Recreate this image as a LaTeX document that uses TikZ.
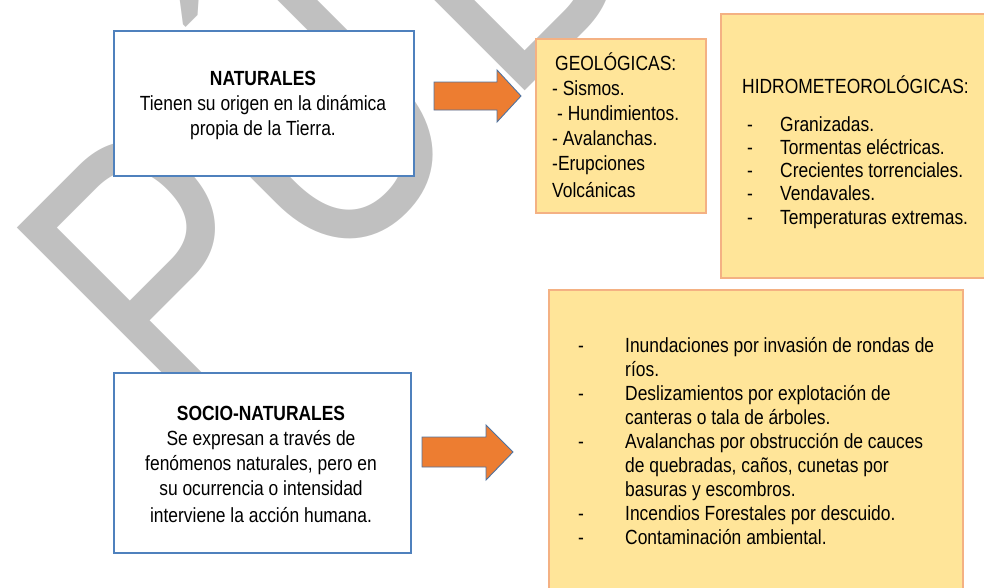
\documentclass[tikz,border=0pt]{standalone}
\usepackage{fontspec}
\setmainfont[FakeStretch=0.85]{Liberation Sans}
\newfontfamily\wmfont[FakeStretch=0.8]{Liberation Sans}
\definecolor{wm}{RGB}{192,192,192}
\definecolor{bluebd}{RGB}{79,129,189}
\definecolor{yelfill}{RGB}{255,229,153}
\definecolor{yelbd}{RGB}{244,177,131}
\definecolor{arrfill}{RGB}{237,125,49}
\definecolor{arrbd}{RGB}{80,115,160}
\begin{document}
\begin{tikzpicture}[x=1pt,y=-1pt,
  whitebox/.style={draw=bluebd, line width=1.8pt, fill=white, inner sep=0pt, anchor=north west},
  yelbox/.style={draw=yelbd, line width=1.8pt, fill=yelfill, inner sep=0pt, anchor=north west},
  blockarrow/.style={draw=arrbd, line width=0.9pt, fill=arrfill, line join=miter},
  wmletter/.style={rotate=45, anchor=base west, inner sep=0pt, text=wm,
      font=\wmfont\fontsize{380}{380}\selectfont},
  txt/.style={inner sep=0pt, font=\fontsize{20.5}{25}\selectfont, text=black}]
\useasboundingbox (0,0) rectangle (984,587);
\clip (0,0) rectangle (984,587);
% watermark letters
\node[wmletter] (wmP) at (184.3,430.9) {P};
\node[wmletter] (wmU) at (327.7,287.5) {Ú};
\node[wmletter] (wmB) at (506.9,108.3) {BLICO};
% boxes
\node[whitebox, minimum width=300pt, minimum height=145pt] (nat) at (113,30) {};
\node[whitebox, minimum width=297pt, minimum height=180pt] (soc) at (113,372) {};
\node[yelbox, minimum width=170pt, minimum height=174pt] (geo) at (535,38) {};
\node[yelbox, minimum width=272pt, minimum height=264pt] (hid) at (720,13) {};
\node[yelbox, minimum width=414pt, minimum height=320pt] (socl) at (548,289) {};
% texts (anchor = baseline of the last line)
\node[txt, anchor=base, align=center] (natT) at (263,135)
  {\textbf{NATURALES}\\Tienen su origen en la dinámica\\propia de la Tierra.};
\node[txt, anchor=base, align=center] (socT) at (261,522)
  {\textbf{SOCIO-NATURALES}\\Se expresan a través de\\fenómenos naturales, pero en\\su ocurrencia o intensidad\\[2pt]interviene la acción humana.};
\node[txt, anchor=base west, align=left] (geoT) at (552,197)
  {\hspace*{3pt}GEOLÓGICAS:\\- Sismos.\\\hspace*{5pt}- Hundimientos.\\- Avalanchas.\\-Erupciones\\[2pt]Volcánicas};
\node[txt, anchor=base west] (hidT) at (742,93) {HIDROMETEOROLÓGICAS:};
\node[txt, anchor=base west, align=left, font=\fontsize{20.5}{23.3}\selectfont] (hidL) at (747,224.2)
  {\makebox[33pt][l]{-}Granizadas.\\
   \makebox[33pt][l]{-}Tormentas eléctricas.\\
   \makebox[33pt][l]{-}Crecientes torrenciales.\\
   \makebox[33pt][l]{-}Vendavales.\\
   \makebox[33pt][l]{-}Temperaturas extremas.};
\node[txt, anchor=base west, align=left, font=\fontsize{20.5}{24.1}\selectfont] (soclT) at (578,544.8)
  {\makebox[47pt][l]{-}Inundaciones por invasión de rondas de\\
   \hspace*{47pt}ríos.\\
   \makebox[47pt][l]{-}Deslizamientos por explotación de\\
   \hspace*{47pt}canteras o tala de árboles.\\
   \makebox[47pt][l]{-}Avalanchas por obstrucción de cauces\\
   \hspace*{47pt}de quebradas, caños, cunetas por\\
   \hspace*{47pt}basuras y escombros.\\
   \makebox[47pt][l]{-}Incendios Forestales por descuido.\\
   \makebox[47pt][l]{-}Contaminación ambiental.};
% block arrows
\coordinate (a1) at (434,96);
\coordinate (a1tip) at (521,96);
\draw[blockarrow] (434,82) -- (497,82) -- (497,70) -- (a1tip) -- (497,122) -- (497,110) -- (434,110) -- cycle;
\coordinate (a2) at (422,452);
\coordinate (a2tip) at (513,452);
\draw[blockarrow] (422,437) -- (486,437) -- (486,425) -- (a2tip) -- (486,480) -- (486,467) -- (422,467) -- cycle;
\end{tikzpicture}
\end{document}
